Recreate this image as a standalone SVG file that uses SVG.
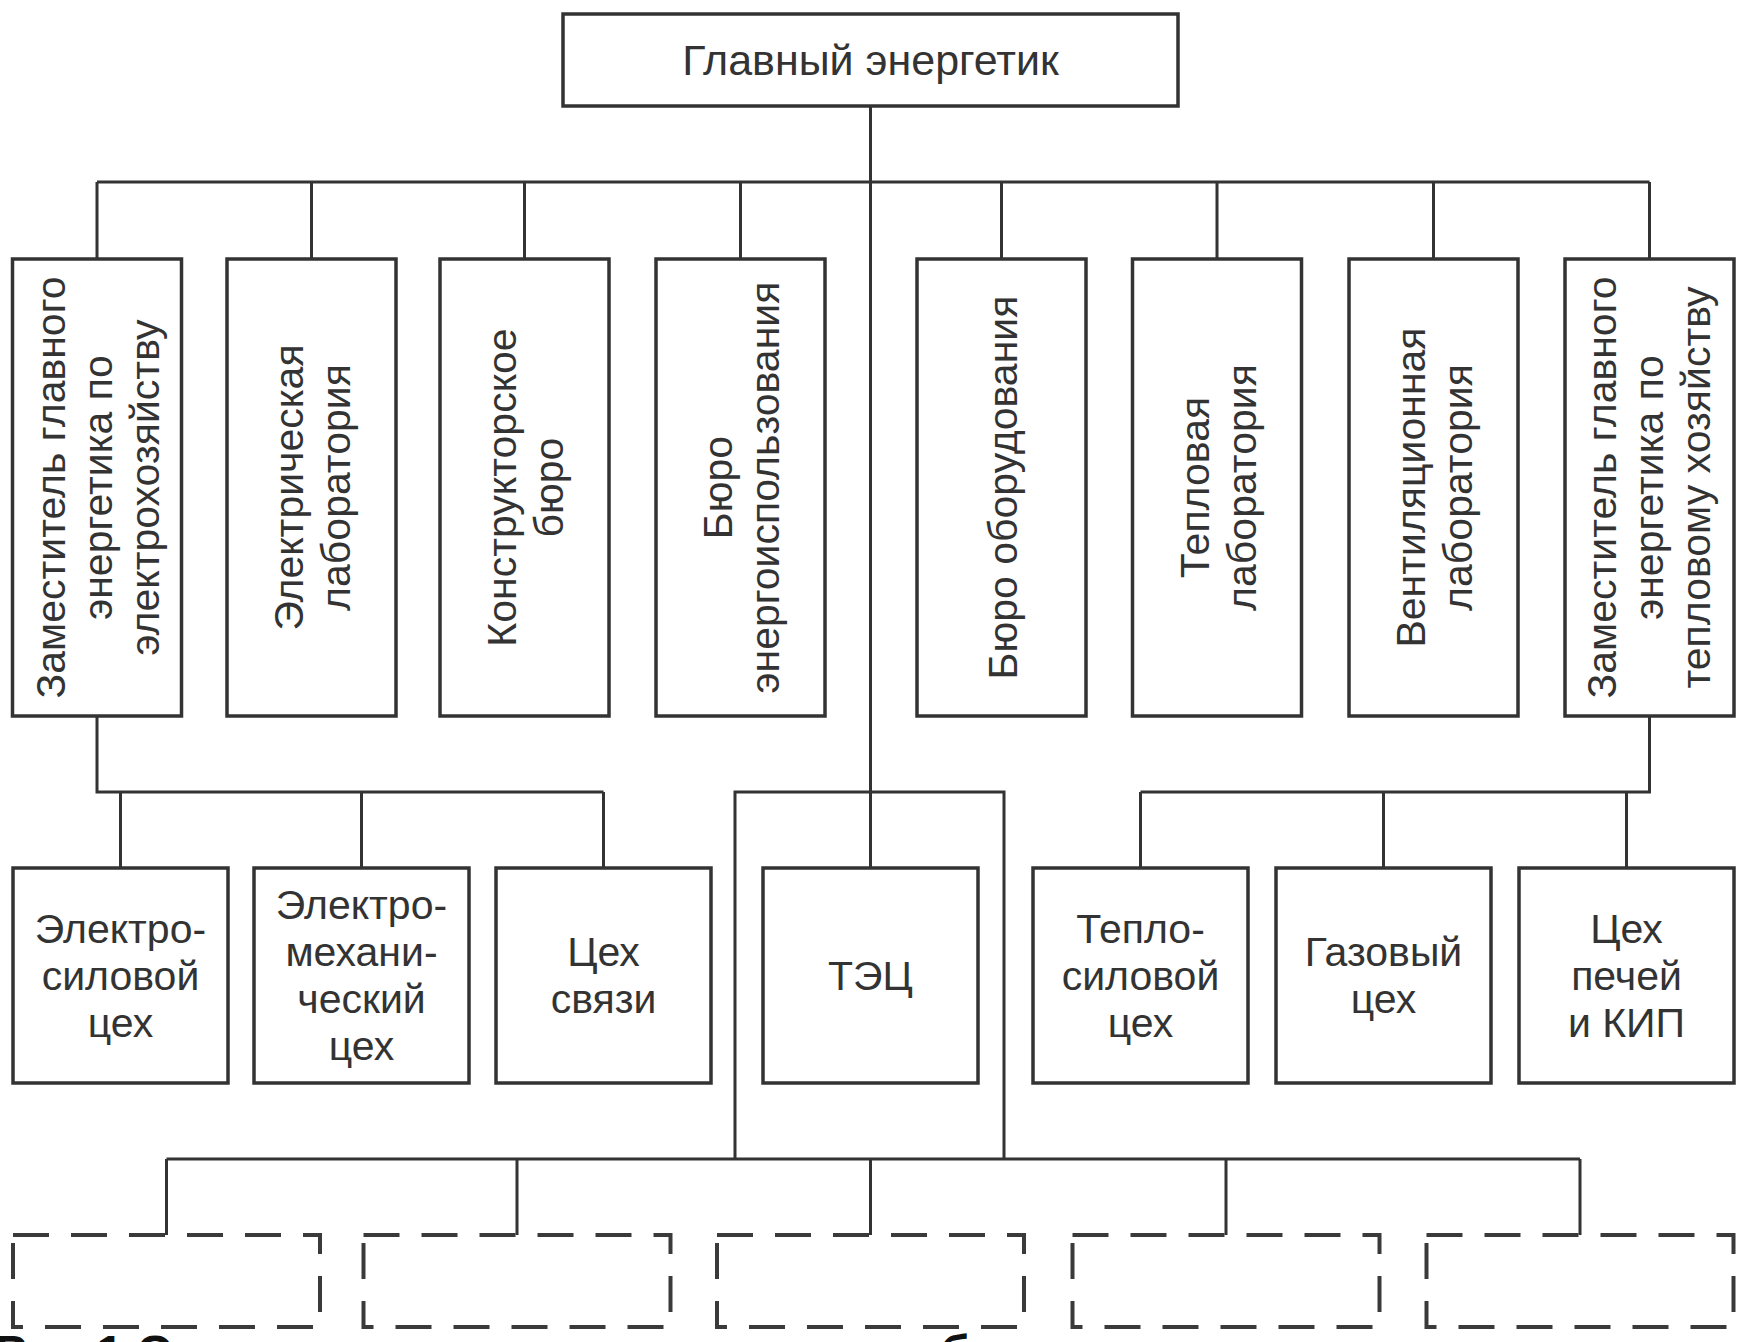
<svg xmlns="http://www.w3.org/2000/svg" width="1743" height="1342" viewBox="0 0 1743 1342">
<style>
.box{fill:#fff;stroke:#333;stroke-width:3.5}
.dash{fill:none;stroke:#3a3a3a;stroke-width:4;stroke-dasharray:36 22}
.ln{fill:none;stroke:#333;stroke-width:3}
text{font-family:"Liberation Sans",Arial,sans-serif;font-size:41px;fill:#333;text-anchor:middle}
.title{font-size:43px}
.cap{font-weight:bold;fill:#111;text-anchor:start;font-size:48px}
</style>
<rect width="1743" height="1342" fill="#fff"/>
<g id="connectors">
<path class="ln" d="M870.5 106V868"/>
<path class="ln" d="M97 182H1649.5"/>
<path class="ln" d="M97 182V259M311.5 182V259M524.5 182V259M740.5 182V259M1001.5 182V259M1217 182V259M1433.5 182V259M1649.5 182V259"/>
<path class="ln" d="M97 716V792H603.5M120.5 792V868M361.5 792V868M603.5 792V868"/>
<path class="ln" d="M1649.5 716V792H1140.5M1140.5 792V868M1383.5 792V868M1626.5 792V868"/>
<path class="ln" d="M735 1159V792H1004V1159"/>
<path class="ln" d="M166.5 1159H1580M166.5 1159V1235M517 1159V1235M870.5 1159V1235M1226 1159V1235M1580 1159V1235"/>
</g>
<g id="n-main"><rect class="box" x="563" y="14" width="615" height="92"/><text class="title" x="870.5" y="75">Главный энергетик</text></g>
<g id="n-zam-el"><rect class="box" x="12.5" y="259" width="169" height="457"/><text transform="translate(97 487.5) rotate(-90)"><tspan x="0" y="-32">Заместитель главного</tspan><tspan x="0" y="15">энергетика по</tspan><tspan x="0" y="62">электрохозяйству</tspan></text></g>
<g id="n-el-lab"><rect class="box" x="227" y="259" width="169" height="457"/><text transform="translate(311.5 487.5) rotate(-90)"><tspan x="0" y="-8.5">Электрическая</tspan><tspan x="0" y="38.5">лаборатория</tspan></text></g>
<g id="n-konstr"><rect class="box" x="440" y="259" width="169" height="457"/><text transform="translate(524.5 487.5) rotate(-90)"><tspan x="0" y="-8.5">Конструкторское</tspan><tspan x="0" y="38.5">бюро</tspan></text></g>
<g id="n-energo"><rect class="box" x="656" y="259" width="169" height="457"/><text transform="translate(740.5 487.5) rotate(-90)"><tspan x="0" y="-8.5">Бюро</tspan><tspan x="0" y="38.5">энергоиспользования</tspan></text></g>
<g id="n-oborud"><rect class="box" x="917" y="259" width="169" height="457"/><text transform="translate(1001.5 487.5) rotate(-90)"><tspan x="0" y="15">Бюро оборудования</tspan></text></g>
<g id="n-tepl-lab"><rect class="box" x="1132.5" y="259" width="169" height="457"/><text transform="translate(1217 487.5) rotate(-90)"><tspan x="0" y="-8.5">Тепловая</tspan><tspan x="0" y="38.5">лаборатория</tspan></text></g>
<g id="n-vent-lab"><rect class="box" x="1349" y="259" width="169" height="457"/><text transform="translate(1433.5 487.5) rotate(-90)"><tspan x="0" y="-8.5">Вентиляционная</tspan><tspan x="0" y="38.5">лаборатория</tspan></text></g>
<g id="n-zam-tepl"><rect class="box" x="1565" y="259" width="169" height="457"/><text transform="translate(1649.5 487.5) rotate(-90)"><tspan x="0" y="-34">Заместитель главного</tspan><tspan x="0" y="13">энергетика по</tspan><tspan x="0" y="60">тепловому хозяйству</tspan></text></g>
<g id="n-elsil"><rect class="box" x="13" y="868" width="215" height="215"/><text><tspan x="120.5" y="942.5">Электро-</tspan><tspan x="120.5" y="989.5">силовой</tspan><tspan x="120.5" y="1036.5">цех</tspan></text></g>
<g id="n-elmeh"><rect class="box" x="254" y="868" width="215" height="215"/><text><tspan x="361.5" y="919">Электро-</tspan><tspan x="361.5" y="966">механи-</tspan><tspan x="361.5" y="1013">ческий</tspan><tspan x="361.5" y="1060">цех</tspan></text></g>
<g id="n-svyaz"><rect class="box" x="496" y="868" width="215" height="215"/><text><tspan x="603.5" y="966">Цех</tspan><tspan x="603.5" y="1013">связи</tspan></text></g>
<g id="n-tec"><rect class="box" x="763" y="868" width="215" height="215"/><text x="870.5" y="989.5">ТЭЦ</text></g>
<g id="n-teplsil"><rect class="box" x="1033" y="868" width="215" height="215"/><text><tspan x="1140.5" y="942.5">Тепло-</tspan><tspan x="1140.5" y="989.5">силовой</tspan><tspan x="1140.5" y="1036.5">цех</tspan></text></g>
<g id="n-gaz"><rect class="box" x="1276" y="868" width="215" height="215"/><text><tspan x="1383.5" y="966">Газовый</tspan><tspan x="1383.5" y="1013">цех</tspan></text></g>
<g id="n-pechi"><rect class="box" x="1519" y="868" width="215" height="215"/><text><tspan x="1626.5" y="942.5">Цех</tspan><tspan x="1626.5" y="989.5">печей</tspan><tspan x="1626.5" y="1036.5">и КИП</tspan></text></g>
<g id="n-d1"><rect class="dash" x="13" y="1235" width="307" height="92"/></g>
<g id="n-d2"><rect class="dash" x="363.5" y="1235" width="307" height="92"/></g>
<g id="n-d3"><rect class="dash" x="717" y="1235" width="307" height="92"/></g>
<g id="n-d4"><rect class="dash" x="1072.5" y="1235" width="307" height="92"/></g>
<g id="n-d5"><rect class="dash" x="1426.5" y="1235" width="307" height="92"/></g>
<text class="cap" x="-5" y="1369">Рис.1 Организационная структура службы главного энергетика</text>
</svg>
